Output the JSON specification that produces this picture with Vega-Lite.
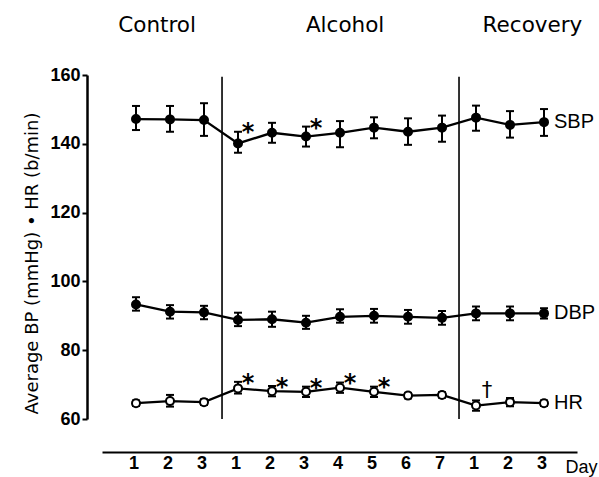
{
  "$schema": "https://vega.github.io/schema/vega-lite/v6.json",
  "width": 475,
  "height": 344,
  "autosize": "none",
  "padding": {"left": 102, "top": 75, "right": 22, "bottom": 58},
  "background": "white",
  "config": {"view": {"stroke": null}},
  "datasets": {
    "bp": [
      {"series": "SBP", "pos": 0, "mean": 147.2, "lo": 144.0, "hi": 151.0},
      {"series": "SBP", "pos": 1, "mean": 147.1, "lo": 143.5, "hi": 151.0},
      {"series": "SBP", "pos": 2, "mean": 146.9, "lo": 142.3, "hi": 151.8},
      {"series": "SBP", "pos": 3, "mean": 140.1, "lo": 137.4, "hi": 143.5},
      {"series": "SBP", "pos": 4, "mean": 143.2, "lo": 140.3, "hi": 146.1},
      {"series": "SBP", "pos": 5, "mean": 142.1, "lo": 139.2, "hi": 145.0},
      {"series": "SBP", "pos": 6, "mean": 143.2, "lo": 139.0, "hi": 146.6},
      {"series": "SBP", "pos": 7, "mean": 144.7, "lo": 141.6, "hi": 147.7},
      {"series": "SBP", "pos": 8, "mean": 143.5, "lo": 139.7, "hi": 147.4},
      {"series": "SBP", "pos": 9, "mean": 144.7, "lo": 140.6, "hi": 148.2},
      {"series": "SBP", "pos": 10, "mean": 147.6, "lo": 143.8, "hi": 151.1},
      {"series": "SBP", "pos": 11, "mean": 145.5, "lo": 141.8, "hi": 149.5},
      {"series": "SBP", "pos": 12, "mean": 146.3, "lo": 142.3, "hi": 150.1},
      {"series": "DBP", "pos": 0, "mean": 93.3, "lo": 91.5, "hi": 95.4},
      {"series": "DBP", "pos": 1, "mean": 91.2, "lo": 89.2, "hi": 93.1},
      {"series": "DBP", "pos": 2, "mean": 91.0, "lo": 89.0, "hi": 92.9},
      {"series": "DBP", "pos": 3, "mean": 88.8, "lo": 87.0, "hi": 90.9},
      {"series": "DBP", "pos": 4, "mean": 89.0, "lo": 86.8, "hi": 91.2},
      {"series": "DBP", "pos": 5, "mean": 88.0, "lo": 86.2, "hi": 90.0},
      {"series": "DBP", "pos": 6, "mean": 89.7, "lo": 88.0, "hi": 91.9},
      {"series": "DBP", "pos": 7, "mean": 90.0, "lo": 88.0, "hi": 92.0},
      {"series": "DBP", "pos": 8, "mean": 89.7, "lo": 87.7, "hi": 91.7},
      {"series": "DBP", "pos": 9, "mean": 89.4, "lo": 87.4, "hi": 91.4},
      {"series": "DBP", "pos": 10, "mean": 90.7, "lo": 88.7, "hi": 92.7},
      {"series": "DBP", "pos": 11, "mean": 90.7, "lo": 88.7, "hi": 92.7},
      {"series": "DBP", "pos": 12, "mean": 90.7, "lo": 89.2, "hi": 92.2},
      {"series": "HR", "pos": 0, "mean": 64.6, "lo": 63.8, "hi": 65.4},
      {"series": "HR", "pos": 1, "mean": 65.2, "lo": 63.6, "hi": 67.0},
      {"series": "HR", "pos": 2, "mean": 64.9, "lo": 64.1, "hi": 65.7},
      {"series": "HR", "pos": 3, "mean": 68.9, "lo": 67.4, "hi": 70.8},
      {"series": "HR", "pos": 4, "mean": 68.1, "lo": 66.6, "hi": 69.6},
      {"series": "HR", "pos": 5, "mean": 67.9, "lo": 66.4, "hi": 69.4},
      {"series": "HR", "pos": 6, "mean": 69.1, "lo": 67.6, "hi": 70.6},
      {"series": "HR", "pos": 7, "mean": 67.9, "lo": 66.4, "hi": 69.4},
      {"series": "HR", "pos": 8, "mean": 66.8, "lo": 66.0, "hi": 67.6},
      {"series": "HR", "pos": 9, "mean": 67.0, "lo": 66.2, "hi": 67.8},
      {"series": "HR", "pos": 10, "mean": 63.9, "lo": 62.4, "hi": 65.4},
      {"series": "HR", "pos": 11, "mean": 64.9, "lo": 63.7, "hi": 66.1},
      {"series": "HR", "pos": 12, "mean": 64.6, "lo": 63.8, "hi": 65.4}
    ],
    "days": [
      {"pos": 0, "day": "1"}, {"pos": 1, "day": "2"}, {"pos": 2, "day": "3"},
      {"pos": 3, "day": "1"}, {"pos": 4, "day": "2"}, {"pos": 5, "day": "3"},
      {"pos": 6, "day": "4"}, {"pos": 7, "day": "5"}, {"pos": 8, "day": "6"},
      {"pos": 9, "day": "7"}, {"pos": 10, "day": "1"}, {"pos": 11, "day": "2"},
      {"pos": 12, "day": "3"}
    ],
    "notes": [
      {"kind": "star", "pos": 3, "y": 145.3, "sym": "*"},
      {"kind": "star", "pos": 5, "y": 146.4, "sym": "*"},
      {"kind": "star", "pos": 3, "y": 72.1, "sym": "*"},
      {"kind": "star", "pos": 4, "y": 71.1, "sym": "*"},
      {"kind": "star", "pos": 5, "y": 70.8, "sym": "*"},
      {"kind": "star", "pos": 6, "y": 72.2, "sym": "*"},
      {"kind": "star", "pos": 7, "y": 71.0, "sym": "*"},
      {"kind": "dagger", "pos": 10, "y": 68.4, "sym": "†"}
    ],
    "phases": [
      {"phase": "Control", "pos": 0.62, "y": 172.5},
      {"phase": "Alcohol", "pos": 6.15, "y": 172.5},
      {"phase": "Recovery", "pos": 11.66, "y": 172.6}
    ],
    "bounds": [{"b": 2.53}, {"b": 9.5}]
  },
  "layer": [
    {
      "data": {"name": "bp"},
      "mark": {"type": "line", "color": "black", "strokeWidth": 2.3},
      "encoding": {
        "x": {
          "field": "pos", "type": "quantitative",
          "scale": {"domain": [-1, 12.97], "nice": false, "zero": false},
          "axis": {
            "labels": false, "ticks": false, "grid": false, "domain": true,
            "domainColor": "black", "domainWidth": 2.2, "offset": 33,
            "title": "Day", "titleFont": "Liberation Sans", "titleFontSize": 18,
            "titleFontWeight": "normal", "titleColor": "black",
            "titleX": 463, "titleY": 20, "titleAlign": "left", "titleBaseline": "alphabetic"
          }
        },
        "y": {
          "field": "mean", "type": "quantitative",
          "scale": {"domain": [60, 160], "nice": false, "zero": false},
          "axis": {
            "values": [60, 80, 100, 120, 140, 160],
            "offset": 15, "grid": false,
            "domainColor": "black", "domainWidth": 2.5,
            "tickColor": "black", "tickWidth": 2, "tickSize": 5,
            "labelFont": "Liberation Sans Narrow, Liberation Sans",
            "labelFontSize": 18, "labelFontWeight": "bold", "labelColor": "black",
            "labelPadding": 2, "labelFlush": false, "labelOverlap": false,
            "title": "Average BP (mmHg) • HR (b/min)",
            "titleFont": "DejaVu Sans", "titleFontSize": 18, "titleFontWeight": "normal",
            "titleColor": "black", "titleX": -46, "titleY": 188,
            "titleAlign": "center", "titleBaseline": "bottom", "titleAngle": 270
          }
        },
        "detail": {"field": "series"}
      }
    },
    {
      "data": {"name": "bounds"},
      "mark": {"type": "rule", "color": "black", "strokeWidth": 1.6},
      "encoding": {
        "x": {"field": "b", "type": "quantitative"},
        "y": {"datum": 60, "type": "quantitative"},
        "y2": {"datum": 159.5}
      }
    },
    {
      "data": {"name": "bp"},
      "mark": {"type": "rule", "color": "black", "strokeWidth": 2},
      "encoding": {
        "x": {"field": "pos", "type": "quantitative"},
        "y": {"field": "lo", "type": "quantitative"},
        "y2": {"field": "hi"}
      }
    },
    {
      "data": {"name": "bp"},
      "mark": {"type": "tick", "orient": "horizontal", "size": 8, "thickness": 2, "color": "black", "opacity": 1},
      "encoding": {
        "x": {"field": "pos", "type": "quantitative"},
        "y": {"field": "lo", "type": "quantitative"}
      }
    },
    {
      "data": {"name": "bp"},
      "mark": {"type": "tick", "orient": "horizontal", "size": 8, "thickness": 2, "color": "black", "opacity": 1},
      "encoding": {
        "x": {"field": "pos", "type": "quantitative"},
        "y": {"field": "hi", "type": "quantitative"}
      }
    },
    {
      "data": {"name": "bp"},
      "mark": {"type": "circle", "stroke": "black", "strokeWidth": 2, "size": 64, "opacity": 1, "fillOpacity": 1},
      "encoding": {
        "x": {"field": "pos", "type": "quantitative"},
        "y": {"field": "mean", "type": "quantitative"},
        "fill": {
          "field": "series", "type": "nominal",
          "scale": {"domain": ["SBP", "DBP", "HR"], "range": ["black", "black", "white"]},
          "legend": null
        }
      }
    },
    {
      "data": {"name": "bp"},
      "transform": [{"filter": "datum.pos == 12"}],
      "mark": {"type": "text", "align": "left", "baseline": "middle", "dx": 10, "font": "Liberation Sans", "fontSize": 20, "color": "black"},
      "encoding": {
        "x": {"field": "pos", "type": "quantitative"},
        "y": {"field": "mean", "type": "quantitative"},
        "text": {"field": "series"}
      }
    },
    {
      "data": {"name": "days"},
      "mark": {"type": "text", "align": "center", "baseline": "middle", "dx": -2, "font": "Liberation Sans Narrow, Liberation Sans", "fontWeight": "bold", "fontSize": 18, "color": "black"},
      "encoding": {
        "x": {"field": "pos", "type": "quantitative"},
        "y": {"datum": 46.8, "type": "quantitative"},
        "text": {"field": "day"}
      }
    },
    {
      "data": {"name": "notes"},
      "transform": [{"filter": "datum.kind == 'star'"}],
      "mark": {"type": "text", "align": "center", "baseline": "alphabetic", "dx": 10, "dy": 14, "font": "DejaVu Sans", "fontWeight": "bold", "fontSize": 24, "color": "black"},
      "encoding": {
        "x": {"field": "pos", "type": "quantitative"},
        "y": {"field": "y", "type": "quantitative"},
        "text": {"field": "sym"}
      }
    },
    {
      "data": {"name": "notes"},
      "transform": [{"filter": "datum.kind == 'dagger'"}],
      "mark": {"type": "text", "align": "center", "baseline": "alphabetic", "dx": 11, "dy": 7, "font": "DejaVu Sans", "fontSize": 21, "color": "black"},
      "encoding": {
        "x": {"field": "pos", "type": "quantitative"},
        "y": {"field": "y", "type": "quantitative"},
        "text": {"field": "sym"}
      }
    },
    {
      "data": {"name": "phases"},
      "mark": {"type": "text", "align": "center", "baseline": "alphabetic", "font": "DejaVu Sans", "fontSize": 21.5, "color": "black"},
      "encoding": {
        "x": {"field": "pos", "type": "quantitative"},
        "y": {"field": "y", "type": "quantitative"},
        "text": {"field": "phase"}
      }
    }
  ]
}
